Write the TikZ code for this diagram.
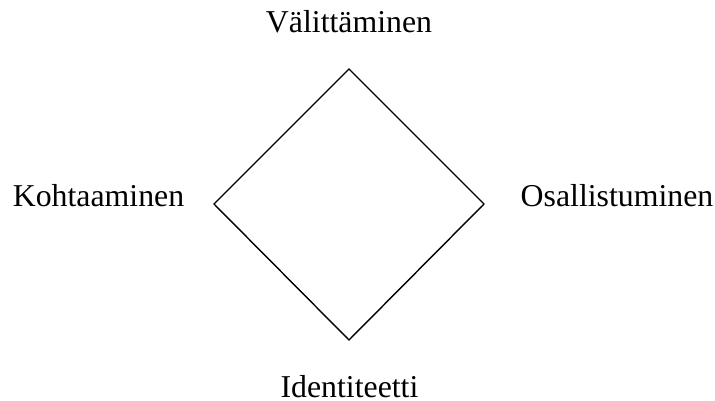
\documentclass[tikz,border=0pt]{standalone}
\usepackage{fontspec}
\setmainfont{Liberation Serif}
\begin{document}
\begin{tikzpicture}[x=1pt,y=-1pt,
  lbl/.style={font=\fontsize{31.8}{36}\selectfont, inner sep=0pt, anchor=base},
  edge/.style={draw=black, line width=1.4pt, line join=miter}]
\useasboundingbox (0,0) rectangle (715,401);
\coordinate (T) at (349,69);
\coordinate (L) at (214,204);
\coordinate (R) at (484,204);
\coordinate (B) at (349,340);
\draw[edge] (T) -- (R) -- (B) -- (L) -- cycle;
\node[lbl] (vt) at (349,33) {Välittäminen};
\node[lbl] (kt) at (98.5,206) {Kohtaaminen};
\node[lbl] (os) at (617,206) {Osallistuminen};
\node[lbl] (id) at (349.5,397) {Identiteetti};
\end{tikzpicture}
\end{document}
